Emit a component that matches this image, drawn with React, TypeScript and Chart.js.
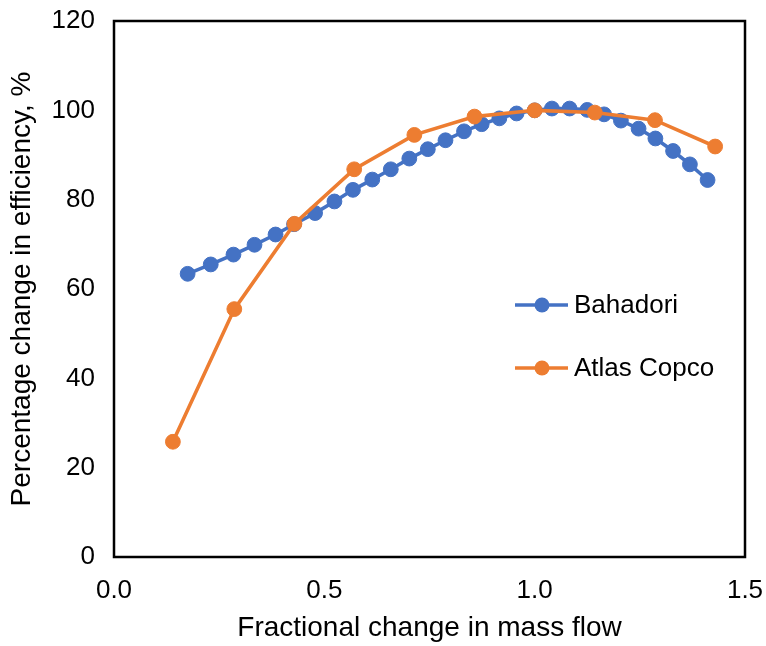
import React, { useEffect, useRef } from "react";
import { Chart, registerables } from "chart.js";

Chart.register(...registerables);

// Fractional change in mass flow (x) vs percentage change in efficiency (y)
const bahadoriFlow = [
  0.175, 0.23, 0.284, 0.334, 0.384, 0.428, 0.478, 0.524, 0.568, 0.614, 0.658, 0.702, 0.746, 0.788, 0.832,
  0.874, 0.916, 0.957, 1.0, 1.041, 1.083, 1.125, 1.165, 1.205, 1.247, 1.287, 1.329, 1.369, 1.411,
];
const bahadoriEff = [
  63.4, 65.5, 67.7, 69.9, 72.2, 74.5, 77.0, 79.6, 82.2, 84.5, 86.8, 89.2, 91.3, 93.3, 95.3,
  96.9, 98.2, 99.3, 100.0, 100.4, 100.4, 100.1, 99.1, 97.7, 95.9, 93.7, 90.9, 87.9, 84.4,
];
const atlasFlow = [0.14, 0.286, 0.429, 0.571, 0.714, 0.857, 1.0, 1.143, 1.286, 1.429];
const atlasEff = [25.8, 55.5, 74.6, 86.8, 94.5, 98.6, 100.0, 99.5, 97.8, 91.9];

const seriesNames = ["Bahadori", "Atlas Copco"];
const seriesColors = ["#4472C4", "#ED7D31"];

const xAxisTitle = "Fractional change in mass flow";
const yAxisTitle = "Percentage change in efficiency, %";

const FONT = "'Liberation Sans', Arial, sans-serif";

const toPoints = (xs: number[], ys: number[]) => xs.map((x, i) => ({ x, y: ys[i] }));

// Black frame round the plot area
const framePlugin = {
  id: "plotFrame",
  afterDatasetsDraw(chart: any) {
    const { ctx, chartArea } = chart;
    ctx.save();
    ctx.strokeStyle = "#000";
    ctx.lineWidth = 2.5;
    ctx.strokeRect(chartArea.left, chartArea.top, chartArea.right - chartArea.left, chartArea.bottom - chartArea.top);
    ctx.restore();
  },
};

// Legend drawn inside the plot, to the right
const insideLegendPlugin = {
  id: "insideLegend",
  afterDraw(chart: any) {
    const { ctx, chartArea } = chart;
    const x0 = chartArea.left + 401;
    const rows = [chartArea.top + 284, chartArea.top + 347];
    ctx.save();
    chart.data.datasets.forEach((ds: any, i: number) => {
      const y = rows[i];
      ctx.strokeStyle = ds.borderColor;
      ctx.lineWidth = 3.5;
      ctx.beginPath();
      ctx.moveTo(x0, y);
      ctx.lineTo(x0 + 53, y);
      ctx.stroke();
      ctx.fillStyle = ds.backgroundColor;
      ctx.beginPath();
      ctx.arc(x0 + 27, y, 7.5, 0, Math.PI * 2);
      ctx.fill();
      ctx.fillStyle = "#000";
      ctx.font = `26px ${FONT}`;
      ctx.textBaseline = "middle";
      ctx.textAlign = "left";
      ctx.fillText(ds.label, x0 + 59, y + 1);
    });
    ctx.restore();
  },
};

const zeroPadding = (scale: any) => {
  scale.paddingLeft = 0;
  scale.paddingRight = 0;
  scale.paddingTop = 0;
  scale.paddingBottom = 0;
};

export default function App() {
  const canvasRef = useRef<HTMLCanvasElement | null>(null);

  useEffect(() => {
    if (!canvasRef.current) return;
    const chart = new Chart(canvasRef.current, {
      type: "scatter",
      data: {
        datasets: [
          {
            label: seriesNames[0],
            data: toPoints(bahadoriFlow, bahadoriEff),
            borderColor: seriesColors[0],
            backgroundColor: seriesColors[0],
            showLine: true,
            borderWidth: 3.6,
            pointRadius: 7.4,
            pointBorderWidth: 1,
            order: 1,
          },
          {
            label: seriesNames[1],
            data: toPoints(atlasFlow, atlasEff),
            borderColor: seriesColors[1],
            backgroundColor: seriesColors[1],
            showLine: true,
            borderWidth: 3.6,
            pointRadius: 7.4,
            pointBorderWidth: 1,
            order: 0,
          },
        ],
      },
      options: {
        animation: false,
        responsive: false,
        layout: { padding: { top: 21, right: 21, left: 0, bottom: 0 } },
        plugins: {
          legend: { display: false },
          tooltip: { enabled: false },
        },
        scales: {
          x: {
            type: "linear",
            min: 0,
            max: 1.5,
            grid: { display: false, drawTicks: false },
            border: { display: false },
            ticks: {
              stepSize: 0.5,
              padding: 18,
              color: "#000",
              font: { family: FONT, size: 26 },
              callback: (v: any) => Number(v).toFixed(1),
            },
            title: {
              display: true,
              text: xAxisTitle,
              color: "#000",
              font: { family: FONT, size: 28 },
              padding: { top: 0, bottom: 1 },
            },
            afterFit: (scale: any) => {
              scale.height = 89;
              zeroPadding(scale);
            },
          },
          y: {
            type: "linear",
            min: 0,
            max: 120,
            grid: { display: false, drawTicks: false },
            border: { display: false },
            ticks: {
              stepSize: 20,
              padding: 19,
              color: "#000",
              font: { family: FONT, size: 26 },
            },
            title: {
              display: true,
              text: yAxisTitle,
              color: "#000",
              font: { family: FONT, size: 28 },
              padding: { top: 5, bottom: 0 },
            },
            afterFit: (scale: any) => {
              scale.width = 114;
              zeroPadding(scale);
            },
          },
        },
      },
      plugins: [framePlugin, insideLegendPlugin],
    });
    return () => chart.destroy();
  }, []);

  return (
    <div style={{ position: "fixed", left: 0, top: 0, width: 766, height: 646, background: "#fff" }}>
      <canvas ref={canvasRef} width={766} height={646} style={{ width: 766, height: 646 }} />
    </div>
  );
}
